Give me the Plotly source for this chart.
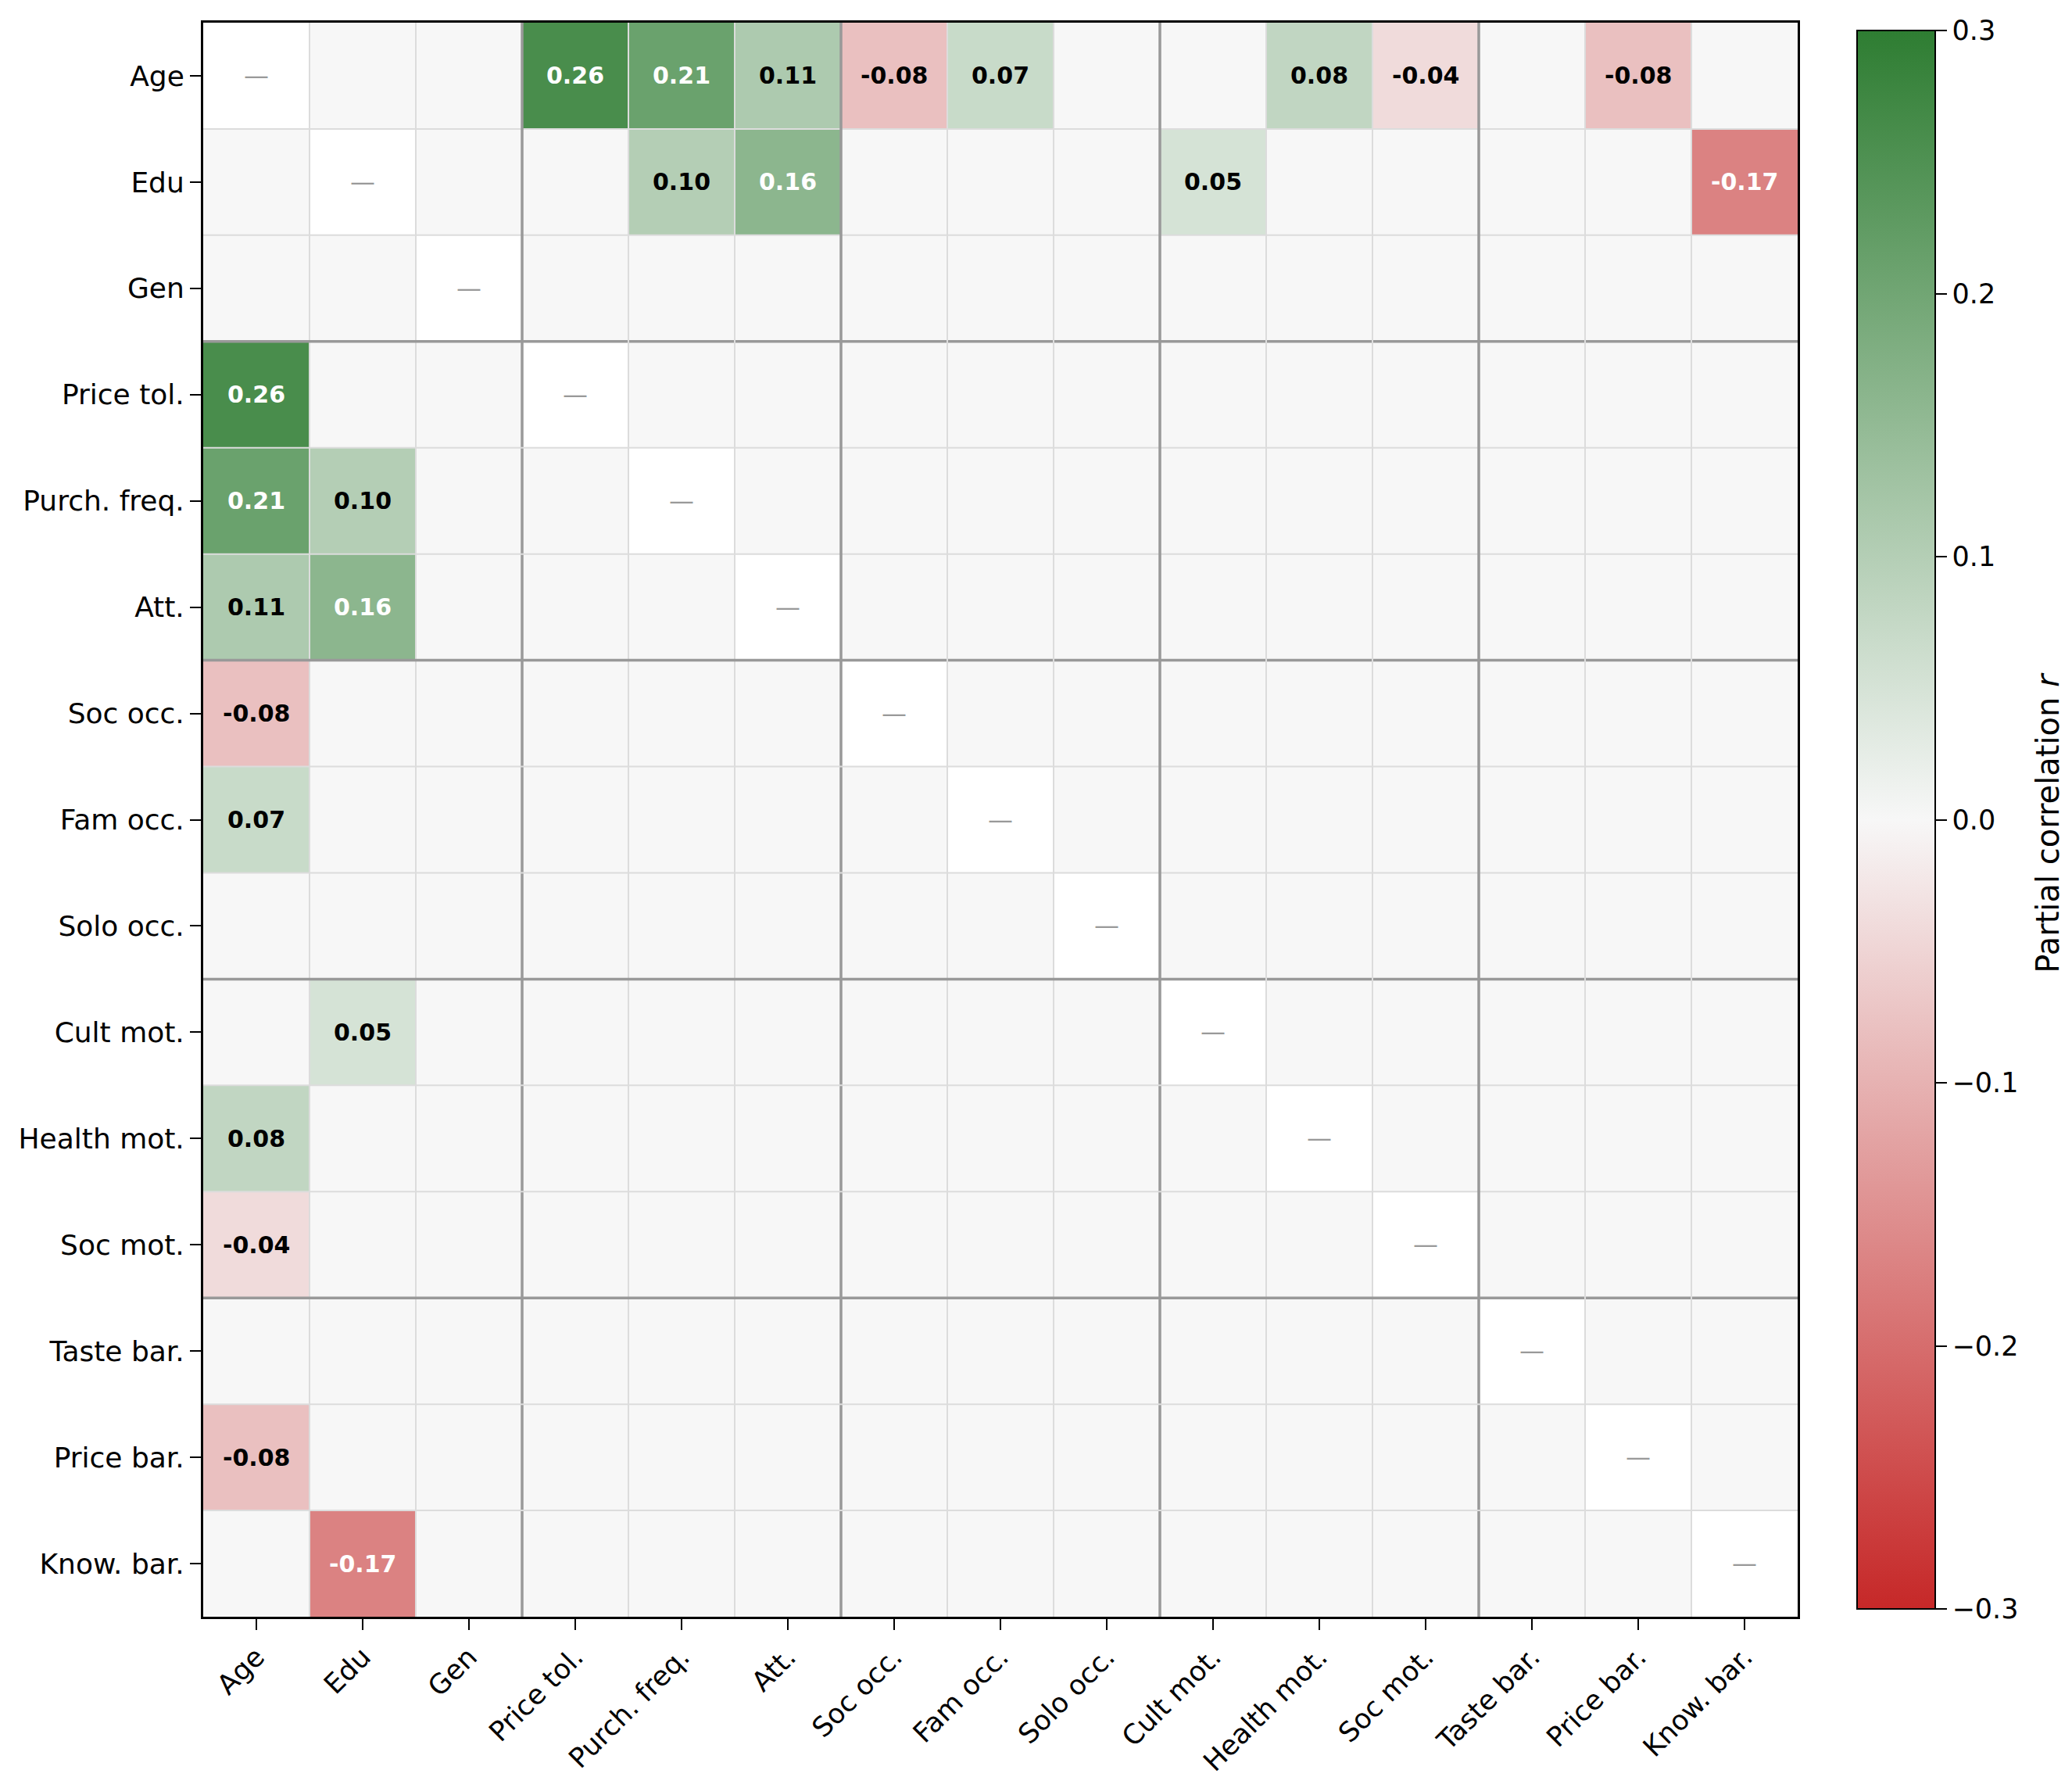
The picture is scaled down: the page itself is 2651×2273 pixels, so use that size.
import numpy as np
import plotly.graph_objects as go

labels = ["Age", "Edu", "Gen", "Price tol.", "Purch. freq.", "Att.",
          "Soc occ.", "Fam occ.", "Solo occ.", "Cult mot.", "Health mot.",
          "Soc mot.", "Taste bar.", "Price bar.", "Know. bar."]

# significant partial correlations (upper triangle), others are blank
pairs_a = ["Age", "Age", "Age", "Age", "Age", "Age", "Age", "Age",
           "Edu", "Edu", "Edu", "Edu"]
pairs_b = ["Price tol.", "Purch. freq.", "Att.", "Soc occ.", "Fam occ.",
           "Health mot.", "Soc mot.", "Price bar.",
           "Purch. freq.", "Att.", "Cult mot.", "Know. bar."]
pairs_r = [0.26, 0.21, 0.11, -0.08, 0.07, 0.08, -0.04, -0.08,
           0.10, 0.16, 0.05, -0.17]

group_breaks = [2.5, 5.5, 8.5, 11.5]

n = len(labels)
z = [[None] * n for _ in range(n)]
for a, b, r in zip(pairs_a, pairs_b, pairs_r):
    i, j = labels.index(a), labels.index(b)
    z[i][j] = r
    z[j][i] = r
diag = [[1 if i == j else None for j in range(n)] for i in range(n)]

font = "DejaVu Sans"
fig = go.Figure()

fig.add_trace(go.Heatmap(
    z=diag, x=list(range(n)), y=list(range(n)),
    colorscale=[[0, "#ffffff"], [1, "#ffffff"]], showscale=False,
    hoverinfo="skip"))

fig.add_trace(go.Heatmap(
    z=z, x=list(range(n)), y=list(range(n)),
    zmin=-0.3, zmax=0.3,
    colorscale=[[0, "#c62828"], [0.5, "#f7f7f7"], [1, "#2e7d32"]],
    colorbar=dict(
        tickvals=[-0.3, -0.2, -0.1, 0, 0.1, 0.2, 0.3],
        tickformat=".1f",
        tickfont=dict(size=35, family=font, color="black"),
        ticks="outside", ticklen=14, tickwidth=2, tickcolor="black",
        outlinewidth=2, outlinecolor="black",
        thickness=100, len=0.99, lenmode="fraction",
        x=1.0373, xanchor="left", y=0.5, yanchor="middle",
        xpad=0, ypad=0),
    hoverongaps=False))

# colorbar title, placed like matplotlib's label
fig.add_annotation(text="Partial correlation <i>r</i>", textangle=-90,
                   xref="paper", yref="paper", x=1.1569, y=0.498,
                   xanchor="center", yanchor="middle", showarrow=False,
                   font=dict(size=40, family=font, color="black"))

# cell labels
for i in range(n):
    for j in range(n):
        if i == j:
            fig.add_annotation(x=j, y=i, text="—", showarrow=False,
                               font=dict(size=32, family=font, color="#999999"))
        elif z[i][j] is not None:
            v = z[i][j]
            col = "white" if abs(v) >= 0.15 else "black"
            fig.add_annotation(x=j, y=i, text=f"<b>{v:.2f}</b>", showarrow=False,
                               font=dict(size=30, family=font, color=col))

# cell grid and group separators
for k in range(1, n):
    pos = k - 0.5
    major = pos in group_breaks
    c = "#999999" if major else "#dcdcdc"
    w = 3.5 if major else 2
    fig.add_shape(type="line", x0=pos, x1=pos, y0=-0.5, y1=n - 0.5,
                  line=dict(color=c, width=w), layer="above")
    fig.add_shape(type="line", x0=-0.5, x1=n - 0.5, y0=pos, y1=pos,
                  line=dict(color=c, width=w), layer="above")

fig.update_xaxes(
    tickvals=list(range(n)), ticktext=labels, tickangle=-45,
    range=[-0.5, n - 0.5], showgrid=False, zeroline=False, automargin=False,
    ticks="outside", ticklen=14, tickwidth=2, tickcolor="black",
    tickfont=dict(size=35, family=font, color="black"),
    showline=True, linecolor="black", linewidth=3, mirror=True)
fig.update_yaxes(
    tickvals=list(range(n)), ticktext=labels,
    range=[n - 0.5, -0.5], showgrid=False, zeroline=False, automargin=False,
    ticks="outside", ticklen=14, tickwidth=2, tickcolor="black",
    tickfont=dict(size=36, family=font, color="black"),
    showline=True, linecolor="black", linewidth=3, mirror=True)

fig.update_layout(
    width=2651, height=2273,
    margin=dict(l=252, r=359, t=21, b=213),
    plot_bgcolor="#f7f7f7", paper_bgcolor="white",
    font=dict(family=font, color="black"),
    showlegend=False)

fig.write_html("out.html")
